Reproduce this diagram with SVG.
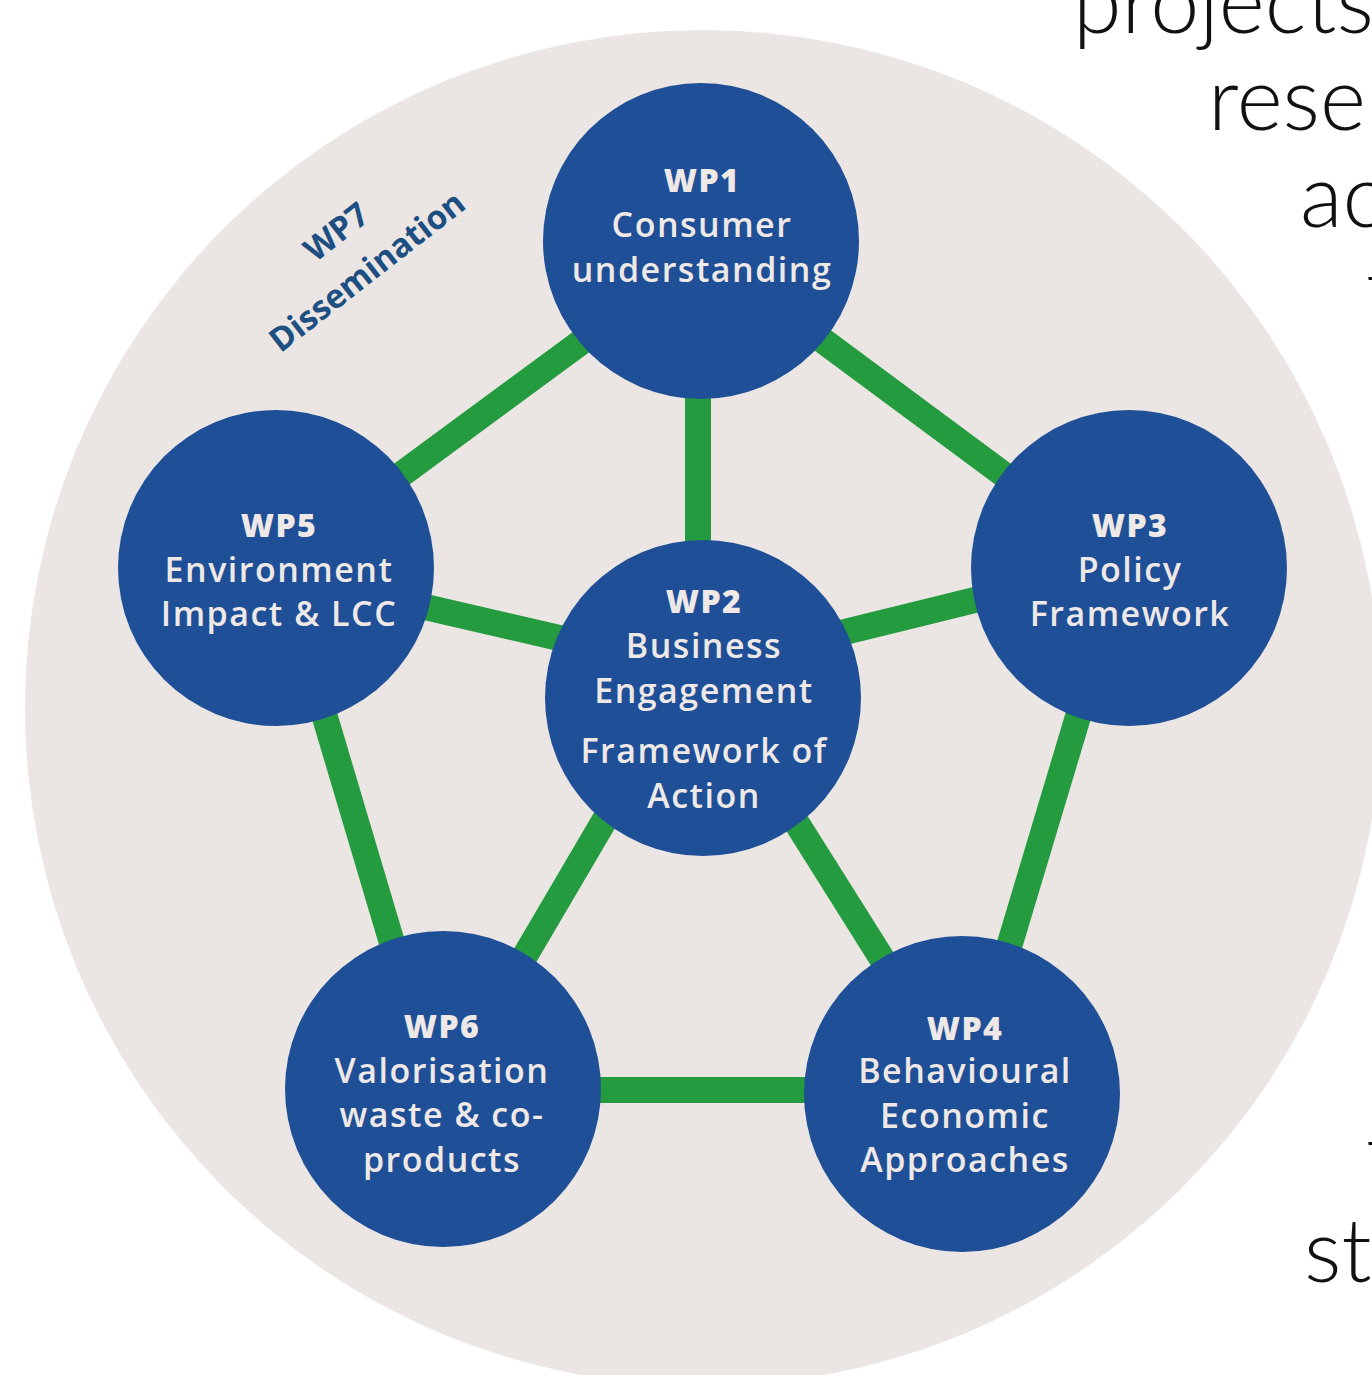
<svg xmlns="http://www.w3.org/2000/svg" width="1372" height="1375" viewBox="0 0 1372 1375">
  <style>
    .bgtext { font-family: Lato, "Open Sans", sans-serif; font-weight: 300; font-size: 88px; fill: #111111; }
    .node circle { fill: #1F4F96; }
    .node text { font-family: "Open Sans", "Noto Sans", sans-serif; fill: #EEE8E6; text-anchor: middle; }
    .t { font-weight: 600; font-size: 34px; letter-spacing: 1.5px; }
    .h { font-weight: 800; font-size: 32px; letter-spacing: 1.5px; }
    .edge { stroke: #249B3F; stroke-width: 26; stroke-linecap: butt; fill: none; }
    .wp7 { font-family: "Open Sans", sans-serif; font-weight: 700; font-size: 33px; fill: #1D4F82; text-anchor: middle; }
  </style>
  <rect width="1372" height="1375" fill="#FFFFFF"/>
  <g id="background-text">
    <text class="bgtext" x="1073" y="33">projects</text>
    <text class="bgtext" x="1208" y="130">rese</text>
    <text class="bgtext" x="1300" y="227">ac</text>
    <text class="bgtext" x="1366" y="320">t</text>
    <text class="bgtext" x="1366" y="1185">t</text>
    <text class="bgtext" x="1304" y="1282">st</text>
  </g>
  <circle id="wp7-area" cx="703" cy="708" r="678" fill="#EBE6E4"/>
  <g id="wp7-label" transform="translate(352,252) rotate(-38)">
    <text class="wp7" x="0" y="-14">WP7</text>
    <text class="wp7" x="0" y="36">Dissemination</text>
  </g>
  <g id="connectors">
    <line class="edge" x1="698" y1="300" x2="698" y2="650"/>
    <line class="edge" x1="641" y1="298" x2="330" y2="527"/>
    <line class="edge" x1="760" y1="294" x2="1080" y2="531"/>
    <line class="edge" x1="330" y1="585" x2="650" y2="659"/>
    <line class="edge" x1="1080" y1="574" x2="760" y2="653"/>
    <line class="edge" x1="302" y1="640" x2="409" y2="1000"/>
    <line class="edge" x1="1101" y1="640" x2="993" y2="1000"/>
    <line class="edge" x1="640" y1="760" x2="499" y2="1000"/>
    <line class="edge" x1="757" y1="760" x2="908" y2="1000"/>
    <line class="edge" x1="500" y1="1090" x2="900" y2="1090"/>
  </g>
  <g id="wp1" class="node">
    <circle cx="701" cy="241" r="158"/>
    <text class="h" x="702" y="192">WP1</text>
    <text class="t" x="702" y="237">Consumer</text>
    <text class="t" x="702" y="282">understanding</text>
  </g>
  <g id="wp3" class="node">
    <circle cx="1129" cy="568" r="158"/>
    <text class="h" x="1130" y="537">WP3</text>
    <text class="t" x="1130" y="582">Policy</text>
    <text class="t" x="1130" y="626">Framework</text>
  </g>
  <g id="wp5" class="node">
    <circle cx="276" cy="568" r="158"/>
    <text class="h" x="279" y="537">WP5</text>
    <text class="t" x="279" y="582">Environment</text>
    <text class="t" x="279" y="626">Impact &amp; LCC</text>
  </g>
  <g id="wp2" class="node">
    <circle cx="703" cy="698" r="158"/>
    <text class="h" x="704" y="613">WP2</text>
    <text class="t" x="704" y="658">Business</text>
    <text class="t" x="704" y="703">Engagement</text>
    <text class="t" x="704" y="763">Framework of</text>
    <text class="t" x="704" y="808">Action</text>
  </g>
  <g id="wp6" class="node">
    <circle cx="443" cy="1089" r="158"/>
    <text class="h" x="442" y="1038">WP6</text>
    <text class="t" x="442" y="1083">Valorisation</text>
    <text class="t" x="442" y="1127">waste &amp; co-</text>
    <text class="t" x="442" y="1172">products</text>
  </g>
  <g id="wp4" class="node">
    <circle cx="962" cy="1094" r="158"/>
    <text class="h" x="965" y="1040">WP4</text>
    <text class="t" x="965" y="1083">Behavioural</text>
    <text class="t" x="965" y="1128">Economic</text>
    <text class="t" x="965" y="1172">Approaches</text>
  </g>
</svg>
